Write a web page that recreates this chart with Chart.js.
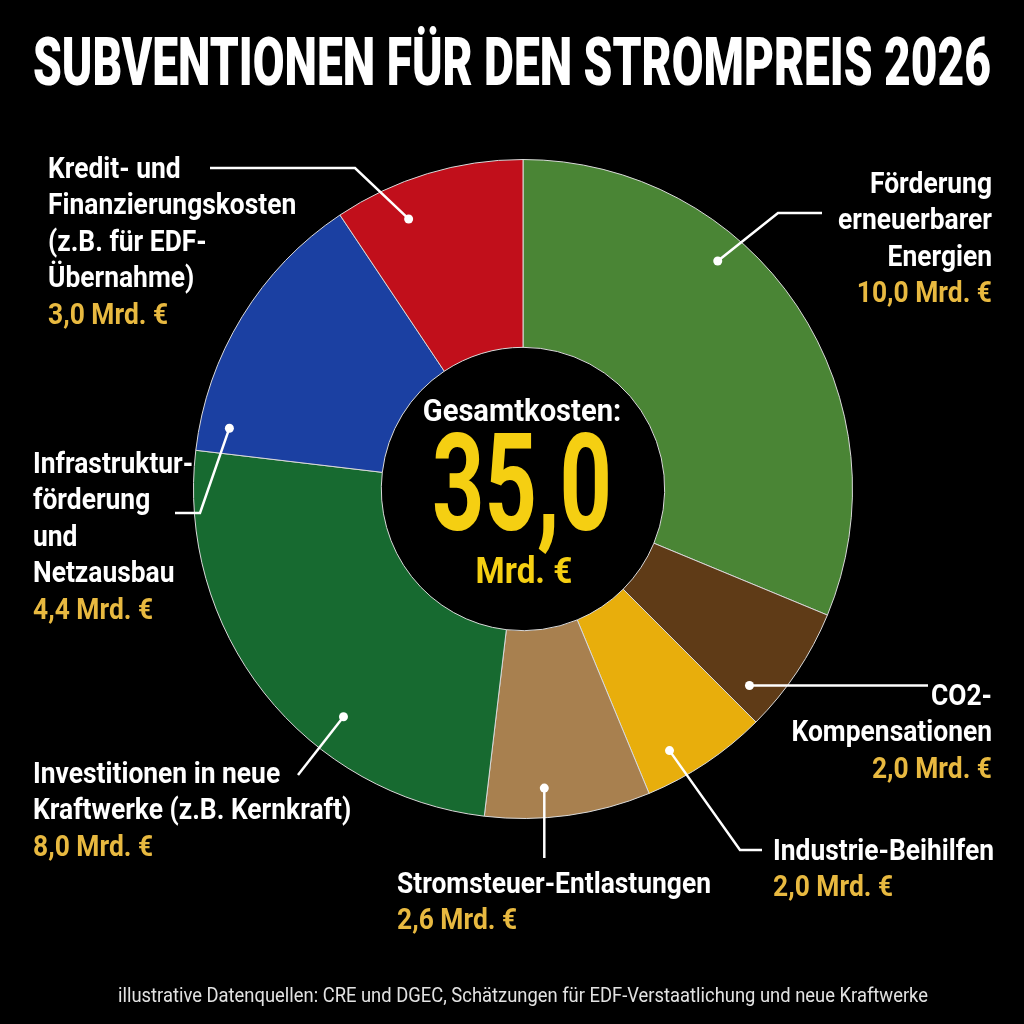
<!DOCTYPE html>
<html lang="de">
<head>
  <meta charset="UTF-8">
  <title>Subventionen für den Strompreis 2026</title>
  <script src="https://cdn.jsdelivr.net/npm/chart.js"></script>
  <style>
    html, body { margin: 0; padding: 0; background: #000; }
    #wrap { width: 1024px; height: 1024px; }
  </style>
</head>
<body>
<div id="wrap"><canvas id="pie" width="1024" height="1024"></canvas></div>
<script>
// data, clockwise from the top
const categories = [
  ["Förderung", "erneuerbarer", "Energien"],
  ["CO2-", "Kompensationen"],
  ["Industrie-Beihilfen"],
  ["Stromsteuer-Entlastungen"],
  ["Investitionen in neue", "Kraftwerke (z.B. Kernkraft)"],
  ["Infrastruktur-", "förderung", "und", "Netzausbau"],
  ["Kredit- und", "Finanzierungskosten", "(z.B. für EDF-", "Übernahme)"]
];
const values = [10.0, 2.0, 2.0, 2.6, 8.0, 4.4, 3.0];
const colors = ["#4a8535", "#5f3b17", "#e8ae0c", "#a8804f", "#176a30", "#1b40a2", "#c10f1b"];
const totalCost = 35.0;

const TITLE = "SUBVENTIONEN FÜR DEN STROMPREIS 2026";
const SOURCE = "illustrative Datenquellen: CRE und DGEC, Schätzungen für EDF-Verstaatlichung und neue Kraftwerke";

const GOLD = "#e8b940";
const YELLOW = "#f5cf12";
const LBL = 30, SQ = 0.88, STEP = 36.5;

function fmt(v) { return v.toFixed(1).replace(".", ","); }

// where each label sits and how its leader runs (layout only)
// at: [position along slice 0..1, radius fraction]
const callouts = [
  { x: 992, y: 185, align: "right", at: [0.36, 0.91], path: [[778, 213], [822, 213]] },
  { x: 992, y: 697, align: "right", at: [0.82, 0.91], path: [[928, null]] },
  { x: 773, y: 852, align: "left",  at: [0.70, 0.91], path: [[740, 850], [762, 850]] },
  { x: 397, y: 885, align: "left",  at: [0.63, 0.91], path: [[null, 858]] },
  { x: 33,  y: 775, align: "left",  at: [0.35, 0.88], path: [[298, 775]] },
  { x: 33,  y: 465, align: "left",  at: [0.10, 0.91], path: [[200, 513], [175, 513]] },
  { x: 48,  y: 170, align: "left",  at: [0.32, 0.89], path: [[355, 168], [210, 168]] }
];

function txt(ctx, s, x, y, size, color, align, squeeze, weight) {
  ctx.save();
  ctx.font = (weight || "bold") + " " + size + "px Roboto";
  ctx.fillStyle = color;
  ctx.textBaseline = "middle";
  ctx.textAlign = align;
  ctx.translate(x, y);
  ctx.scale(squeeze, 1);
  ctx.fillText(s, 0, 0);
  ctx.restore();
}

function fitTxt(ctx, s, x, y, size, color, width, weight) {
  ctx.save();
  ctx.font = (weight || "bold") + " " + size + "px Roboto";
  const w = ctx.measureText(s).width;
  ctx.restore();
  txt(ctx, s, x, y, size, color, "center", width / w, weight);
}

const annotate = {
  id: "annotate",
  afterDraw(chart) {
    const ctx = chart.ctx;
    const arcs = chart.getDatasetMeta(0).data;

    fitTxt(ctx, TITLE, 512, 68, 67, "#ffffff", 958, "900");

    // centre
    txt(ctx, "Gesamtkosten:", 522, 413, 31, "#ffffff", "center", 0.94);
    fitTxt(ctx, fmt(totalCost), 522, 496, 136, YELLOW, 180);
    txt(ctx, "Mrd. €", 524, 574, 37, YELLOW, "center", 0.9);

    // callouts
    arcs.forEach((arc, i) => {
      const c = callouts[i];
      const p = arc.getProps(["x", "y", "startAngle", "endAngle", "outerRadius"], true);
      const a = p.startAngle + (p.endAngle - p.startAngle) * c.at[0];
      const r = p.outerRadius * c.at[1];
      const dx = p.x + Math.cos(a) * r, dy = p.y + Math.sin(a) * r;

      ctx.save();
      ctx.strokeStyle = "#ffffff";
      ctx.fillStyle = "#ffffff";
      ctx.lineWidth = 2.5;
      ctx.beginPath();
      ctx.moveTo(dx, dy);
      c.path.forEach(pt => ctx.lineTo(pt[0] == null ? dx : pt[0], pt[1] == null ? dy : pt[1]));
      ctx.stroke();
      ctx.beginPath();
      ctx.arc(dx, dy, 4.5, 0, Math.PI * 2);
      ctx.fill();
      ctx.restore();

      const lines = categories[i];
      lines.forEach((ln, k) => txt(ctx, ln, c.x, c.y + k * STEP, LBL, "#ffffff", c.align, SQ));
      txt(ctx, fmt(values[i]) + " Mrd. €", c.x, c.y + lines.length * STEP, LBL, GOLD, c.align, SQ);
    });

    fitTxt(ctx, SOURCE, 523, 997, 20, "#e2e2e2", 810, "normal");
  }
};

new Chart(document.getElementById("pie"), {
  type: "doughnut",
  data: {
    labels: categories,
    datasets: [{
      data: values,
      backgroundColor: colors,
      borderColor: "#d9d9d9",
      borderWidth: 1
    }]
  },
  options: {
    responsive: false,
    maintainAspectRatio: false,
    devicePixelRatio: 1,
    animation: false,
    cutout: "43%",
    layout: { padding: { left: 193, right: 171, top: 159, bottom: 205 } },
    plugins: { legend: { display: false }, tooltip: { enabled: false } }
  },
  plugins: [annotate]
});
</script>
</body>
</html>
